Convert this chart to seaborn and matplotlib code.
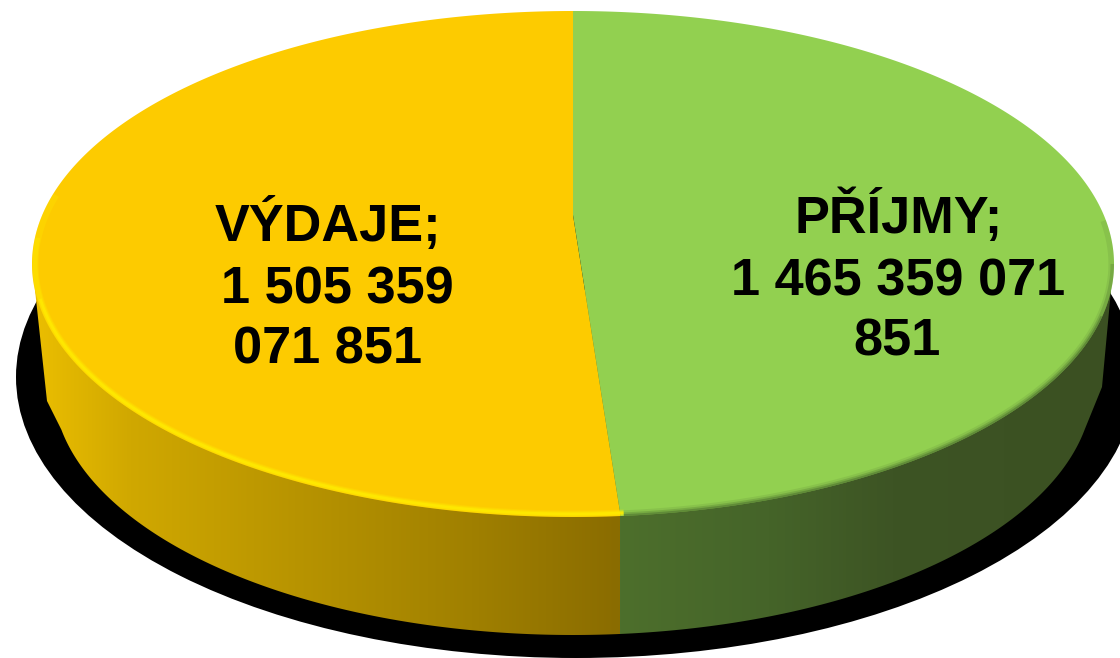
import numpy as np
import matplotlib
matplotlib.use("Agg")
import matplotlib.pyplot as plt
from matplotlib.colors import LinearSegmentedColormap
from matplotlib.patches import Ellipse
from matplotlib.path import Path
import seaborn as sns

# Data
categories = ["VÝDAJE", "PŘÍJMY"]
values = [1505359071851, 1465359071851]
label_lines_vydaje = ["VÝDAJE;", "1 505 359", "071 851"]
label_lines_prijmy = ["PŘÍJMY;", "1 465 359 071", "851"]
top_colors = ["#FDCB00", "#92D050"]

sns.set_theme(style="white")
plt.rcParams["font.family"] = ["Liberation Sans", "DejaVu Sans"]
palette = sns.color_palette(top_colors)

W, H = 1120, 658
fig = plt.figure(figsize=(W / 100, H / 100), dpi=100, facecolor="white")


def px_axes(z):
    a = fig.add_axes([0, 0, 1, 1], zorder=z)
    a.set_xlim(0, W)
    a.set_ylim(H, 0)
    a.axis("off")
    a.patch.set_alpha(0)
    return a


def ellipse_path(c, rx, ry):
    t = np.linspace(0, 2 * np.pi, 721)
    v = np.column_stack([c[0] + rx * np.cos(t), c[1] + ry * np.sin(t)])
    return Path(v, closed=True)


# Geometry of the tilted disc, in pixels
TOP_C, TOP_RX, TOP_RY = (573, 264), 541, 253
BOT_C, BOT_RX, BOT_RY = (573, 385), 520, 250
SHADOW_C, SHADOW_RX, SHADOW_RY = (576, 377), 560, 281
APEX = (573, 215)
X_STRETCH = 3.74

# Layer 1: drop shadow and side wall
back = px_axes(1)
back.add_patch(Ellipse(SHADOW_C, 2 * SHADOW_RX, 2 * SHADOW_RY, color="black", lw=0))

th = np.linspace(np.pi - 0.18, 0.18, 300)
bx = BOT_C[0] + BOT_RX * np.cos(th)
by = BOT_C[1] + BOT_RY * np.sin(th)
verts = [(35, 290), (47, 401)] + list(zip(bx, by)) + [(1102, 387), (1111, 290), (35, 290)]
codes = [Path.MOVETO] + [Path.LINETO] * (len(verts) - 2) + [Path.CLOSEPOLY]
wall = Path(verts, codes)

split = 620
wall_yellow = LinearSegmentedColormap.from_list(
    "wy", [(0, "#ecbf00"), (0.17, "#d0a800"), (0.45, "#b89400"), (0.75, "#a08000"), (1, "#8a6c00")])
wall_green = LinearSegmentedColormap.from_list(
    "wg", [(0, "#4d6f2c"), (0.3, "#456429"), (0.55, "#3d5424"), (1, "#3b5022")])
grad = np.linspace(0, 1, 256)[None, :]
for cmap, x0, x1 in [(wall_yellow, 30, split), (wall_green, split, 1116)]:
    im = back.imshow(grad, cmap=cmap, extent=[x0, x1, H, 0], aspect="auto", zorder=2)
    im.set_clip_path(wall, transform=back.transData)
back.set_xlim(0, W)
back.set_ylim(H, 0)

# Layer 2: the pie surface, clipped to the tilted ellipse
pie_ax = fig.add_axes([0, 0, 1, 1], zorder=2)
wedges, _ = pie_ax.pie(values, startangle=90, counterclock=True, radius=800,
                       colors=palette, wedgeprops={"linewidth": 0})
pie_ax.set_aspect("auto")
pie_ax.set_xlim(-APEX[0] / X_STRETCH, (W - APEX[0]) / X_STRETCH)
pie_ax.set_ylim(APEX[1] - H, APEX[1])
pie_ax.patch.set_alpha(0)
clip = ellipse_path((0, APEX[1] - TOP_C[1]), TOP_RX / X_STRETCH, TOP_RY)
for w in wedges:
    w.set_clip_on(True)
    w.set_clip_path(clip, transform=pie_ax.transData)

# Layer 3: rim highlights and labels
front = px_axes(3)
rim_clip = ellipse_path(TOP_C, TOP_RX, TOP_RY)


def rim(t0, t1, color, lw, alpha, inset=0):
    t = np.radians(np.linspace(t0, t1, 300))
    x = TOP_C[0] + (TOP_RX - inset) * np.cos(t)
    y = TOP_C[1] + (TOP_RY - inset) * np.sin(t)
    ln, = front.plot(x, y, color=color, lw=lw, alpha=alpha, solid_capstyle="butt")
    ln.set_clip_path(rim_clip, transform=front.transData)


rim(84.6, 196, "#FFEC00", 5, 0.25, inset=3)
rim(84.6, 186, "#FFEC00", 3.5, 0.4, inset=3)
rim(84.6, 172, "#FFEC00", 2, 0.7, inset=3)
rim(-10, 84.6, "#4f7330", 8, 0.15)
rim(0, 84.6, "#4f7330", 5, 0.3)
rim(12, 84.6, "#4f7330", 2.5, 0.55)

fs = 37.6
for line, (x, y) in zip(label_lines_vydaje, [(328, 241), (337.5, 303), (327.5, 364)]):
    front.text(x, y, line, ha="center", va="baseline", fontsize=fs, fontweight="bold", color="black")
for line, (x, y) in zip(label_lines_prijmy, [(898.5, 233), (898, 295), (897, 356)]):
    front.text(x, y, line, ha="center", va="baseline", fontsize=fs, fontweight="bold", color="black")

fig.savefig("out.png", dpi=100, facecolor="white")
